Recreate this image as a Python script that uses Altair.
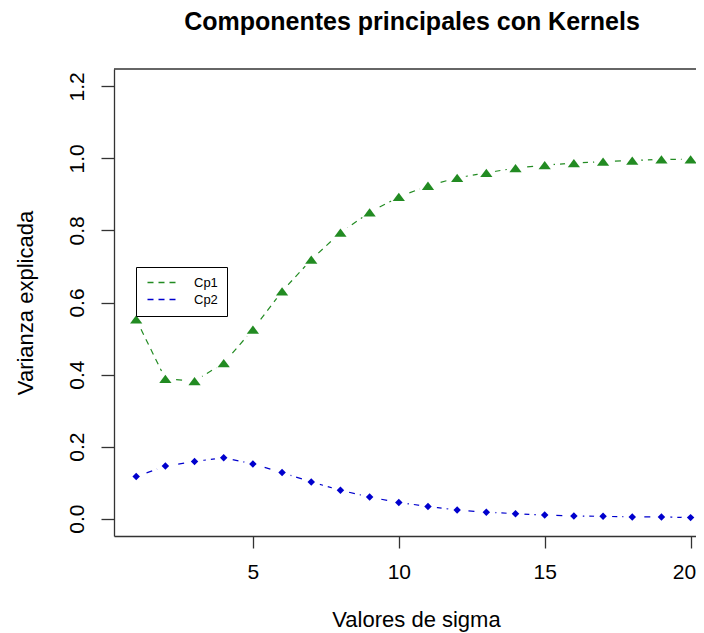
import altair as alt
import pandas as pd

# ---- data ----
sigma = list(range(1, 21))
cp1 = [0.553, 0.388, 0.382, 0.432, 0.525, 0.631, 0.719, 0.794, 0.850, 0.893,
       0.924, 0.946, 0.960, 0.973, 0.981, 0.987, 0.991, 0.994, 0.997, 0.997]
cp2 = [0.117, 0.146, 0.159, 0.169, 0.152, 0.128, 0.102, 0.079, 0.060, 0.045,
       0.034, 0.024, 0.018, 0.014, 0.010, 0.0074, 0.0065, 0.005, 0.005, 0.003]
series_names = ["Cp1", "Cp2"]
series_colors = ["#228B22", "#0000CD"]
marker_shapes = ["M0,-0.675L1,0.675L-1,0.675Z", "diamond"]
marker_sizes = [150, 56]
x_ticks = [5, 10, 15, 20]
y_ticks = [0.0, 0.2, 0.4, 0.6, 0.8, 1.0, 1.2]

df = pd.DataFrame({
    "sigma": sigma * 2,
    "value": cp1 + cp2,
    "series": [series_names[0]] * len(sigma) + [series_names[1]] * len(sigma),
})

W, H = 582, 467
FONT = "Liberation Sans"
AX = "#333333"

x = alt.X(
    "sigma:Q",
    scale=alt.Scale(domain=[0.24, 20.185], nice=False, zero=False),
    axis=alt.Axis(
        values=x_ticks, format="d", title="Valores de sigma", grid=False,
        tickSize=12, labelPadding=30, labelBaseline="alphabetic",
        labelFlush=6, labelFlushOffset=5,
        labelFontSize=21, titleFontSize=22, titleFontWeight="normal",
        titleBaseline="alphabetic", titleY=90, titleX=302,
    ),
)
y = alt.Y(
    "value:Q",
    scale=alt.Scale(domain=[-0.048, 1.248], nice=False, zero=False),
    axis=alt.Axis(
        values=y_ticks, format=".1f", title="Varianza explicada", grid=False,
        tickSize=13, labelPadding=18, labelAngle=-90, labelAlign="center",
        labelBaseline="alphabetic", labelFlush=False,
        labelFontSize=21, titleFontSize=22, titleFontWeight="normal",
        titleBaseline="alphabetic", titleX=-82, titleY=H / 2, titleAngle=270,
    ),
)
color_scale = alt.Scale(domain=series_names, range=series_colors)

lines = alt.Chart(df).mark_line(strokeDash=[6, 5], strokeWidth=1.2).encode(
    x=x, y=y,
    color=alt.Color(
        "series:N", scale=color_scale,
        legend=alt.Legend(
            title=None, orient="none", legendX=22, legendY=198,
            symbolType="M-0.8,0L5.4,0", symbolSize=100, symbolStrokeWidth=1.3,
            symbolDash=[6, 5], strokeColor="black", fillColor="white",
            padding=9, labelFontSize=13, labelFont=FONT, labelOffset=36,
            rowPadding=3, labelColor="black",
        ),
    ),
)

halo = alt.Chart(df).mark_point(
    filled=True, shape="circle", size=324, color="white", opacity=1
).encode(x=x, y=y)

point_layers = [
    alt.Chart(df).transform_filter(alt.datum.series == name).mark_point(
        filled=True, opacity=1, strokeWidth=0, fill=col, shape=shp, size=sz
    ).encode(x=x, y=y)
    for name, col, shp, sz in zip(series_names, series_colors, marker_shapes, marker_sizes)
]

border = alt.Chart(pd.DataFrame({"k": [0]})).mark_rule(color=AX, strokeWidth=1.3).encode(
    x=alt.value(0), x2=alt.value(W), y=alt.value(0)
)

chart = alt.layer(lines, halo, *point_layers, border).properties(
    width=W, height=H,
    autosize=alt.AutoSizeParams(type="none"),
    padding={"left": 106, "top": 61, "right": 0, "bottom": 100},
    title=alt.TitleParams(
        "Componentes principales con Kernels", fontSize=25, font=FONT,
        fontWeight="bold", anchor="middle", baseline="alphabetic", offset=13,
        dx=7, color="black",
    ),
).configure_view(stroke=None).configure_axis(
    domainColor=AX, tickColor=AX, domainWidth=1.3, tickWidth=1.3,
    labelColor="black", titleColor="black", labelFont=FONT, titleFont=FONT,
)

chart.save("out.html", embed_options={"renderer": "svg", "actions": False})
